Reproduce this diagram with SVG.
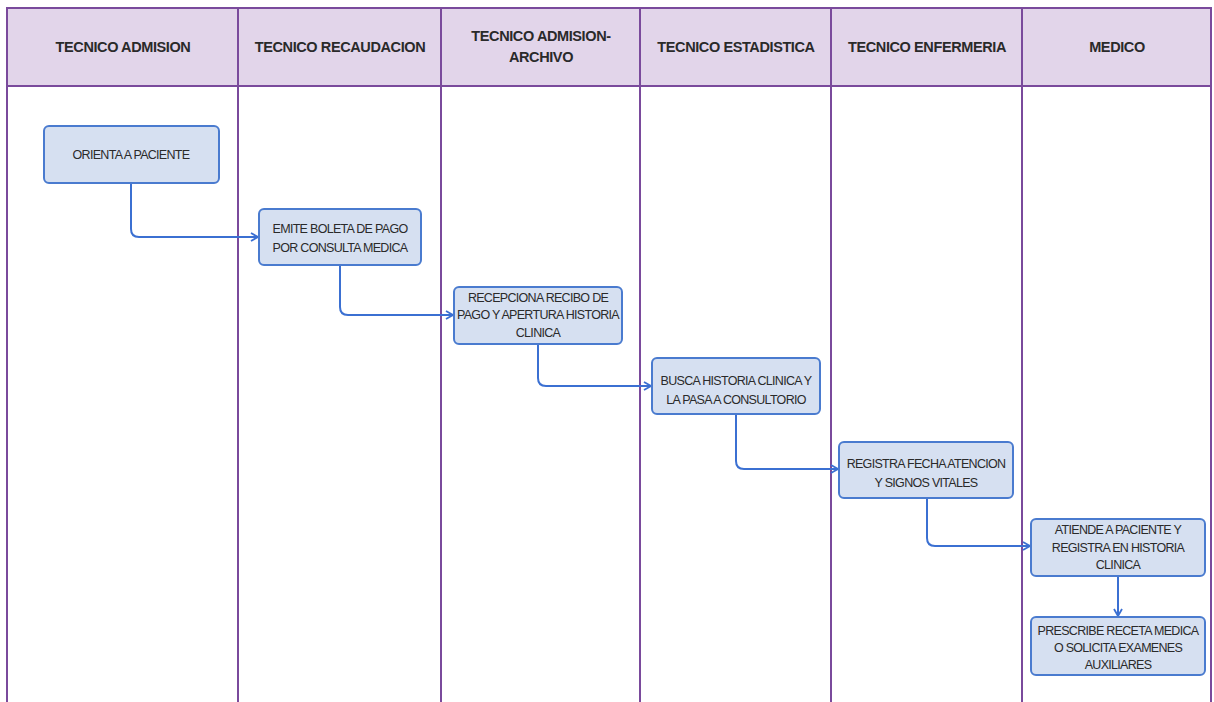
<svg xmlns="http://www.w3.org/2000/svg" width="1214" height="702" viewBox="0 0 1214 702">
  <style>
    .lane { fill: #ffffff; stroke: #7a4a9c; stroke-width: 2; }
    .head { fill: #e2d5ea; stroke: #7a4a9c; stroke-width: 2; }
    .htxt { font-family: "Liberation Sans", Arial, sans-serif; font-weight: bold; font-size: 14.5px; fill: #2a2a2a; text-anchor: middle; letter-spacing: -0.4px; }
    .box { fill: #d6e0f1; stroke: #4a7bcf; stroke-width: 2; }
    .btxt { font-family: "Liberation Sans", Arial, sans-serif; font-size: 12.5px; fill: #2a2a2a; text-anchor: middle; letter-spacing: -0.7px; }
    .flow { fill: none; stroke: #3b70d2; stroke-width: 2; marker-end: url(#chev); }
  </style>
  <defs>
    <marker id="chev" viewBox="0 0 10 10" refX="9" refY="5" markerWidth="10" markerHeight="10" markerUnits="userSpaceOnUse" orient="auto">
      <path d="M2,1 L9,5 L2,9" fill="none" stroke="#3b70d2" stroke-width="1.8"/>
    </marker>
  </defs>
  <rect width="1214" height="702" fill="#ffffff"/>

  <!-- swimlanes -->
  <g id="lanes">
    <rect class="lane" x="7" y="8" width="231" height="700"/>
    <rect class="lane" x="238" y="8" width="203" height="700"/>
    <rect class="lane" x="441" y="8" width="199" height="700"/>
    <rect class="lane" x="640" y="8" width="191" height="700"/>
    <rect class="lane" x="831" y="8" width="191" height="700"/>
    <rect class="lane" x="1022" y="8" width="189" height="700"/>
  </g>

  <!-- lane headers -->
  <g id="headers">
    <rect class="head" x="7" y="8" width="231" height="78"/>
    <rect class="head" x="238" y="8" width="203" height="78"/>
    <rect class="head" x="441" y="8" width="199" height="78"/>
    <rect class="head" x="640" y="8" width="191" height="78"/>
    <rect class="head" x="831" y="8" width="191" height="78"/>
    <rect class="head" x="1022" y="8" width="189" height="78"/>
    <text class="htxt" x="123" y="52">TECNICO ADMISION</text>
    <text class="htxt" x="340" y="52">TECNICO RECAUDACION</text>
    <text class="htxt" x="541" y="41">TECNICO ADMISION-</text>
    <text class="htxt" x="541" y="62">ARCHIVO</text>
    <text class="htxt" x="736" y="52">TECNICO ESTADISTICA</text>
    <text class="htxt" x="927" y="52">TECNICO ENFERMERIA</text>
    <text class="htxt" x="1117" y="52">MEDICO</text>
  </g>

  <!-- connectors -->
  <g id="connectors">
    <path class="flow" d="M131,183 V229 Q131,237 139,237 H258"/>
    <path class="flow" d="M340,265 V307 Q340,315 348,315 H453"/>
    <path class="flow" d="M538,344 V378 Q538,386 546,386 H651"/>
    <path class="flow" d="M736,414 V461 Q736,469 744,469 H838"/>
    <path class="flow" d="M927,498 V538 Q927,546 935,546 H1030"/>
    <path class="flow" d="M1118,576 V616"/>
  </g>

  <!-- activities -->
  <g id="n1">
    <rect class="box" x="44" y="126" width="175" height="57" rx="5"/>
    <text class="btxt" x="131" y="159">ORIENTA A PACIENTE</text>
  </g>
  <g id="n2">
    <rect class="box" x="259" y="209" width="162" height="56" rx="5"/>
    <text class="btxt" x="340" y="233">EMITE BOLETA DE PAGO</text>
    <text class="btxt" x="340" y="252">POR CONSULTA MEDICA</text>
  </g>
  <g id="n3">
    <rect class="box" x="454" y="287" width="168" height="57" rx="5"/>
    <text class="btxt" x="538" y="302">RECEPCIONA RECIBO DE</text>
    <text class="btxt" x="538" y="319">PAGO Y APERTURA HISTORIA</text>
    <text class="btxt" x="538" y="337">CLINICA</text>
  </g>
  <g id="n4">
    <rect class="box" x="652" y="358" width="168" height="56" rx="5"/>
    <text class="btxt" x="736" y="385">BUSCA HISTORIA CLINICA Y</text>
    <text class="btxt" x="736" y="404">LA PASA A CONSULTORIO</text>
  </g>
  <g id="n5">
    <rect class="box" x="839" y="442" width="174" height="56" rx="5"/>
    <text class="btxt" x="926" y="468">REGISTRA FECHA ATENCION</text>
    <text class="btxt" x="926" y="487">Y SIGNOS VITALES</text>
  </g>
  <g id="n6">
    <rect class="box" x="1031" y="519" width="174" height="57" rx="5"/>
    <text class="btxt" x="1118" y="534">ATIENDE A PACIENTE Y</text>
    <text class="btxt" x="1118" y="552">REGISTRA EN HISTORIA</text>
    <text class="btxt" x="1118" y="569">CLINICA</text>
  </g>
  <g id="n7">
    <rect class="box" x="1031" y="617" width="174" height="58" rx="5"/>
    <text class="btxt" x="1118" y="635">PRESCRIBE RECETA MEDICA</text>
    <text class="btxt" x="1118" y="652">O SOLICITA EXAMENES</text>
    <text class="btxt" x="1118" y="669">AUXILIARES</text>
  </g>
</svg>
